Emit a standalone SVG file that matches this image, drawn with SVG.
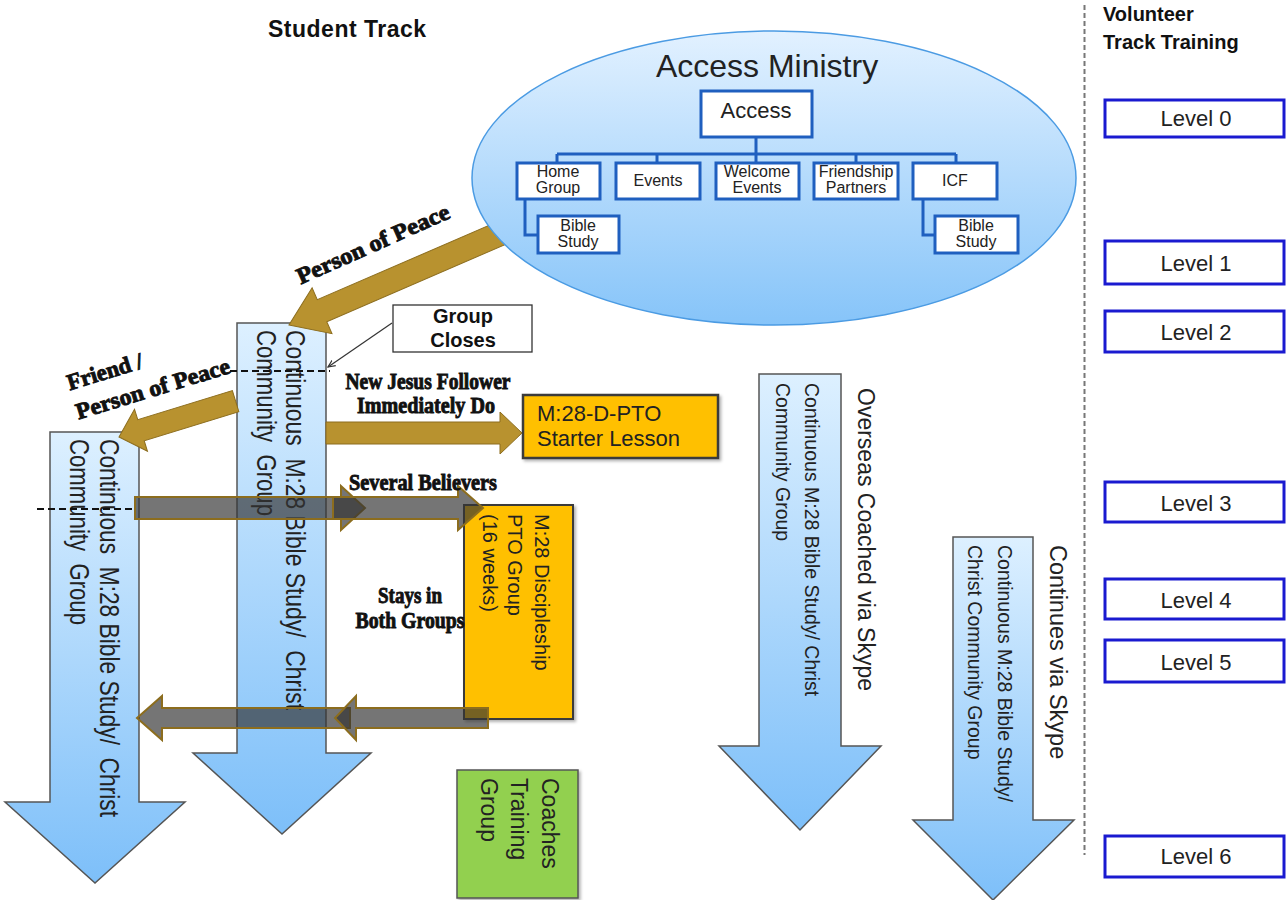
<svg xmlns="http://www.w3.org/2000/svg" width="1286" height="900" viewBox="0 0 1286 900">
<defs>
<linearGradient id="gArrow" x1="0" y1="0" x2="0" y2="1"><stop offset="0" stop-color="#ddf0ff"/><stop offset="1" stop-color="#7dbff9"/></linearGradient>
<linearGradient id="gEll" x1="0" y1="0" x2="0" y2="1"><stop offset="0" stop-color="#e2f1ff"/><stop offset="1" stop-color="#86c4f9"/></linearGradient>
<marker id="mSmall" viewBox="0 0 10 10" refX="9" refY="5" markerWidth="8" markerHeight="8" orient="auto" markerUnits="userSpaceOnUse"><path d="M0,1 L9,5 L0,9" fill="none" stroke="#333" stroke-width="1.5"/></marker>
<filter id="sh" x="-10%" y="-10%" width="130%" height="130%"><feDropShadow dx="2" dy="2" stdDeviation="1.5" flood-color="#000" flood-opacity="0.3"/></filter>
</defs>
<style>
.barrow{fill:url(#gArrow);stroke:#555;stroke-width:1.5}
.vt{font-family:"Liberation Sans",Arial,sans-serif;fill:#222}
.cond{font-family:"Liberation Serif","Times New Roman",serif;font-weight:bold;fill:#111;stroke:#111;stroke-width:0.9;font-size:23px;text-anchor:middle}
.tbox{fill:#fff;stroke:#1f5fbf;stroke-width:3}
.tline{fill:none;stroke:#1f5fbf;stroke-width:3}
.tt{font-family:"Liberation Sans",Arial,sans-serif;font-size:16px;fill:#222;text-anchor:middle}
.lvl{fill:#fff;stroke:#1a1ad0;stroke-width:3}
.lt{font-family:"Liberation Sans",Arial,sans-serif;font-size:22px;fill:#222;text-anchor:middle}
.hd{font-family:"Liberation Sans",Arial,sans-serif;font-weight:bold;fill:#111}
.gold{fill:#b8922f;stroke:#8c6d1e;stroke-width:1}
.gray{fill:#333;fill-opacity:0.68;stroke:#8c6d1e;stroke-width:2}
.dash{stroke:#111;stroke-width:2;stroke-dasharray:7 4;fill:none}
</style>
<rect width="1286" height="900" fill="#fff"/>

<text class="hd" x="268" y="37" font-size="23" letter-spacing="0.5">Student Track</text>
<text class="hd" x="1103" y="21" font-size="20">Volunteer</text>
<text class="hd" x="1103" y="49" font-size="20">Track Training</text>
<path d="M1084.5,5 V855" stroke="#777" stroke-width="2" stroke-dasharray="5 3"/>

<g id="arrowA">
<polygon class="barrow" points="50,432 139,432 139,802 185,802 95,883 5,802 50,802"/>
<text class="vt" font-size="27" transform="translate(100,439) rotate(90)" textLength="378" lengthAdjust="spacingAndGlyphs" xml:space="preserve">Continuous  M:28 Bible Study/  Christ</text>
<text class="vt" font-size="27" transform="translate(70,439) rotate(90)" textLength="186" lengthAdjust="spacingAndGlyphs" xml:space="preserve">Community  Group</text>
</g>

<g id="arrowB">
<polygon class="barrow" points="237,323 326,323 326,753 371,753 282,834 193,753 237,753"/>
<text class="vt" font-size="27" transform="translate(286,330) rotate(90)" textLength="380" lengthAdjust="spacingAndGlyphs" xml:space="preserve">Continuous  M:28 Bible Study/  Christ</text>
<text class="vt" font-size="27" transform="translate(257,330) rotate(90)" textLength="186" lengthAdjust="spacingAndGlyphs" xml:space="preserve">Community  Group</text>
</g>

<g id="arrowC">
<polygon class="barrow" points="759,374 841,374 841,746 881,746 800,830 719,746 759,746"/>
<text class="vt" font-size="19.5" transform="translate(805,383) rotate(90)">Continuous M:28 Bible Study/ Christ</text>
<text class="vt" font-size="19.5" transform="translate(776,383) rotate(90)">Community Group</text>
<text class="vt" font-size="23" transform="translate(858,388) rotate(90)">Overseas Coached via Skype</text>
</g>

<g id="arrowD">
<polygon class="barrow" points="953,537 1033,537 1033,820 1074,820 993,900 913,820 953,820"/>
<text class="vt" font-size="19.5" transform="translate(998,545) rotate(90)">Continuous M:28 Bible Study/</text>
<text class="vt" font-size="19.5" transform="translate(968,545) rotate(90)">Christ Community Group</text>
<text class="vt" font-size="23.5" transform="translate(1050,545) rotate(90)">Continues via Skype</text>
</g>

<g id="starter">
<rect x="523" y="395" width="195" height="63" fill="#ffc000" stroke="#3a3a3a" stroke-width="2.5" filter="url(#sh)"/>
<text class="vt" font-size="22" x="537" y="421">M:28-D-PTO</text>
<text class="vt" font-size="22" x="537" y="446">Starter Lesson</text>
</g>

<g id="pto">
<rect x="464" y="505" width="109" height="214" fill="#ffc000" stroke="#3a3a3a" stroke-width="2" filter="url(#sh)"/>
<text class="vt" font-size="20" transform="translate(535,514) rotate(90)">M:28 Discipleship</text>
<text class="vt" font-size="20" transform="translate(508,514) rotate(90)">PTO Group</text>
<text class="vt" font-size="20" transform="translate(483,514) rotate(90)">(16 weeks)</text>
</g>

<g id="coaches">
<rect x="457" y="770" width="121" height="128" fill="#92d050" stroke="#555" stroke-width="1.5" filter="url(#sh)"/>
<text class="vt" font-size="23" transform="translate(542,778) rotate(90)">Coaches</text>
<text class="vt" font-size="23" transform="translate(511,778) rotate(90)">Training</text>
<text class="vt" font-size="23" transform="translate(481,778) rotate(90)">Group</text>
</g>

<g id="groupCloses">
<rect x="393" y="305" width="139" height="47" fill="#fff" stroke="#333" stroke-width="1.3"/>
<text class="hd" font-size="20" x="463" y="323" text-anchor="middle">Group</text>
<text class="hd" font-size="20" x="463" y="347" text-anchor="middle">Closes</text>
</g>

<g id="levels">
<rect class="lvl" x="1105" y="100" width="179" height="37"/><text class="lt" x="1196" y="126" font-size="20">Level 0</text>
<rect class="lvl" x="1105" y="241" width="179" height="43"/><text class="lt" x="1196" y="271">Level 1</text>
<rect class="lvl" x="1105" y="311" width="179" height="41"/><text class="lt" x="1196" y="340">Level 2</text>
<rect class="lvl" x="1105" y="482" width="179" height="40"/><text class="lt" x="1196" y="511">Level 3</text>
<rect class="lvl" x="1105" y="579" width="179" height="40"/><text class="lt" x="1196" y="608">Level 4</text>
<rect class="lvl" x="1105" y="640" width="179" height="42"/><text class="lt" x="1196" y="670">Level 5</text>
<rect class="lvl" x="1105" y="836" width="179" height="41"/><text class="lt" x="1196" y="864">Level 6</text>
</g>

<g id="connectors">
<polygon class="gold" transform="translate(119,437) rotate(162.9)" points="0,0 -23,-22 -23,-11 -122,-11 -122,11 -23,11 -23,22"/>
<polygon class="gold" transform="translate(289,325) rotate(156.6)" points="0,0 -36,-25 -36,-12 -250,-12 -250,12 -36,12 -36,25"/>
<polygon class="gold" points="326,422 500,422 500,412 522,433 500,454 500,444 326,444"/>
<polygon class="gray" points="135,497 341,497 341,486 365,508 341,530 341,519 135,519"/>
<polygon class="gray" points="333,497 458,497 458,486 483,508 458,530 458,519 333,519"/>
<polygon class="gray" points="350,708 162,708 162,696 137,718 162,740 162,728 350,728"/>
<polygon class="gray" points="488,708 356,708 356,696 335,718 356,740 356,728 488,728"/>
<path class="dash" d="M230,371 H330"/>
<path class="dash" d="M37,509 H135"/>
<path d="M392,323 L328,367" stroke="#333" stroke-width="1.2" fill="none" marker-end="url(#mSmall)"/>
</g>

<g id="labels">
<text class="cond" transform="translate(376,251) rotate(-24)" textLength="165" lengthAdjust="spacingAndGlyphs">Person of Peace</text>
<text class="cond" transform="translate(107,379) rotate(-17)" textLength="78" lengthAdjust="spacingAndGlyphs">Friend /</text>
<text class="cond" transform="translate(155,396) rotate(-17)" textLength="160" lengthAdjust="spacingAndGlyphs">Person of Peace</text>
<text class="cond" x="428" y="389" textLength="165" lengthAdjust="spacingAndGlyphs">New Jesus Follower</text>
<text class="cond" x="426" y="413" textLength="138" lengthAdjust="spacingAndGlyphs">Immediately Do</text>
<text class="cond" x="423" y="490" textLength="148" lengthAdjust="spacingAndGlyphs">Several Believers</text>
<text class="cond" x="410" y="603" textLength="64" lengthAdjust="spacingAndGlyphs">Stays in</text>
<text class="cond" x="410" y="628" textLength="109" lengthAdjust="spacingAndGlyphs">Both Groups</text>
</g>

<g id="accessMinistry">
<ellipse cx="774" cy="178" rx="302" ry="147" fill="url(#gEll)" stroke="#4b9be3" stroke-width="1.5"/>
<text class="vt" x="767" y="77" font-size="32" text-anchor="middle">Access Ministry</text>
<path class="tline" d="M756,137 V154 M557,154 H956 M557,154 V163 M657,154 V163 M756,154 V163 M856,154 V163 M956,154 V163 M525,199 V235 H538 M923,199 V235 H935"/>
<rect class="tbox" x="701" y="91" width="111" height="46"/>
<text class="vt" x="756" y="118" font-size="22" text-anchor="middle">Access</text>
<rect class="tbox" x="517" y="163" width="83" height="36"/>
<text class="tt" x="558" y="177">Home</text><text class="tt" x="558" y="193">Group</text>
<rect class="tbox" x="616" y="163" width="84" height="36"/>
<text class="tt" x="658" y="186">Events</text>
<rect class="tbox" x="716" y="163" width="83" height="36"/>
<text class="tt" x="757" y="177">Welcome</text><text class="tt" x="757" y="193">Events</text>
<rect class="tbox" x="814" y="163" width="84" height="36"/>
<text class="tt" x="856" y="177">Friendship</text><text class="tt" x="856" y="193">Partners</text>
<rect class="tbox" x="913" y="163" width="84" height="36"/>
<text class="tt" x="955" y="186">ICF</text>
<rect class="tbox" x="538" y="216" width="81" height="37"/>
<text class="tt" x="578" y="231">Bible</text><text class="tt" x="578" y="247">Study</text>
<rect class="tbox" x="935" y="216" width="83" height="37"/>
<text class="tt" x="976" y="231">Bible</text><text class="tt" x="976" y="247">Study</text>
</g>
</svg>
